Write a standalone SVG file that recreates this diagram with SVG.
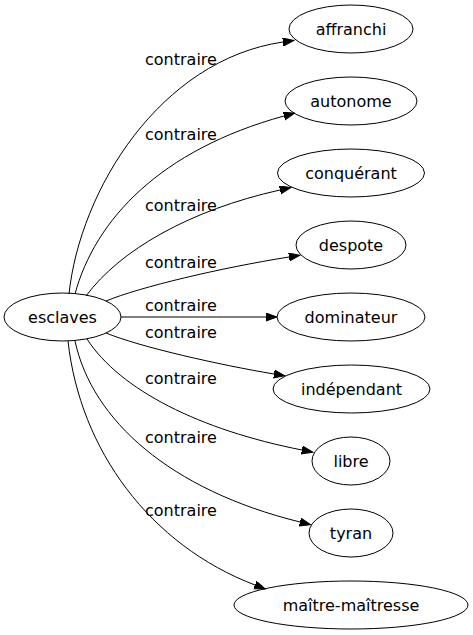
<svg xmlns="http://www.w3.org/2000/svg" width="473" height="635" viewBox="0 0 473 635">
<style>
  .node ellipse { fill: none; stroke: #000; stroke-width: 1; }
  text { font-family: "DejaVu Sans", sans-serif; font-size: 16px; fill: #000; }
  .nt { text-anchor: middle; }
  #edges path { fill: none; stroke: #000; stroke-width: 1; marker-end: url(#arrow); }
</style>
<defs>
  <marker id="arrow" markerWidth="12" markerHeight="10" refX="0" refY="4" orient="auto" markerUnits="userSpaceOnUse">
    <polygon points="0,0 11,4 0,8" fill="#000" stroke="#000" stroke-width="1"/>
  </marker>
</defs>
<rect width="473" height="635" fill="#fff"/>
<g id="edges">
  <path d="M69,294 C80,190 160,60 283,42"/>
  <path d="M75,294 C95,220 160,150 284,116"/>
  <path d="M86,296 C120,250 190,210 280,190"/>
  <path d="M106,301 C140,287 220,268 289,257"/>
  <path d="M121,317 L266,317"/>
  <path d="M106,333 C140,347 220,365 274,374"/>
  <path d="M87,339 C120,390 200,430 302,450"/>
  <path d="M75,341 C92,420 170,490 300,522"/>
  <path d="M68,341 C80,450 150,545 255,585"/>
  <text x="145" y="65">contraire</text>
  <text x="145" y="140">contraire</text>
  <text x="145" y="211">contraire</text>
  <text x="145" y="268">contraire</text>
  <text x="145" y="311">contraire</text>
  <text x="145" y="338">contraire</text>
  <text x="145" y="384">contraire</text>
  <text x="145" y="443">contraire</text>
  <text x="145" y="516">contraire</text>
</g>
<g id="esclaves" class="node"><ellipse cx="62.5" cy="317" rx="58.5" ry="24"/><text class="nt" x="62.5" y="322.5">esclaves</text></g>
<g id="affranchi" class="node"><ellipse cx="351" cy="29" rx="62" ry="24"/><text class="nt" x="351" y="34.5">affranchi</text></g>
<g id="autonome" class="node"><ellipse cx="351" cy="101" rx="66" ry="24"/><text class="nt" x="351" y="106.5">autonome</text></g>
<g id="conquerant" class="node"><ellipse cx="351" cy="173" rx="73.5" ry="24"/><text class="nt" x="351" y="178.5">conquérant</text></g>
<g id="despote" class="node"><ellipse cx="351" cy="245" rx="55" ry="24"/><text class="nt" x="351" y="250.5">despote</text></g>
<g id="dominateur" class="node"><ellipse cx="351" cy="317" rx="74" ry="24"/><text class="nt" x="351" y="322.5">dominateur</text></g>
<g id="independant" class="node"><ellipse cx="351.5" cy="389" rx="78.5" ry="24"/><text class="nt" x="351.5" y="394.5">indépendant</text></g>
<g id="libre" class="node"><ellipse cx="351" cy="461" rx="39" ry="24"/><text class="nt" x="351" y="466.5">libre</text></g>
<g id="tyran" class="node"><ellipse cx="351" cy="533" rx="42" ry="24"/><text class="nt" x="351" y="538.5">tyran</text></g>
<g id="maitre-maitresse" class="node"><ellipse cx="351" cy="605" rx="117" ry="24"/><text class="nt" x="351" y="610.5">maître-maîtresse</text></g>
</svg>
